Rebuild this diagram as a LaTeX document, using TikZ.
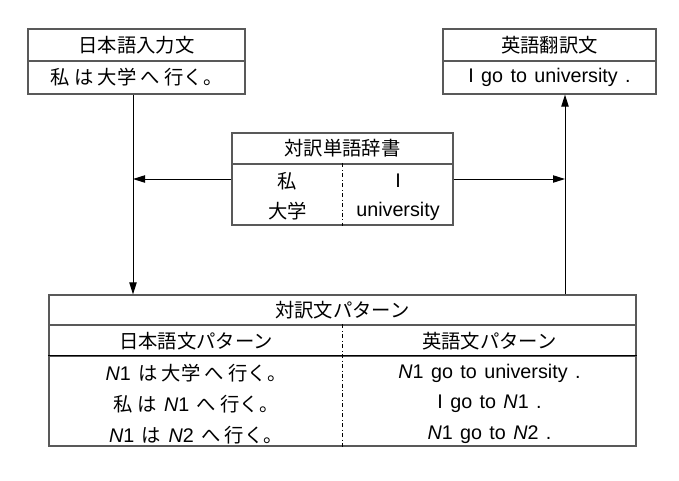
\documentclass[tikz,border=0pt]{standalone}
\usepackage{fontspec}
\setmainfont{Liberation Sans}[WordSpace=1.35]
\newfontfamily\jp{Noto Sans CJK JP}[Scale=0.98]
\newcommand\ja[1]{{\jp #1}}
\usetikzlibrary{arrows.meta}

\begin{document}
\begin{tikzpicture}[x=0.75pt,y=-0.75pt,
    every node/.style={font=\fontsize{14.8}{17}\selectfont,inner sep=0pt},
    cell/.style n args={2}{draw=black!65,line width=0.9pt,
                           minimum width=#1*0.75pt,minimum height=#2*0.75pt},
    arr/.style={-{Triangle[length=9pt,width=5.5pt]},line width=0.75pt}]
 \useasboundingbox (0,0) rectangle (679,480);
 % input and output
 \node[cell={217}{32}] (srchead) at (136.5,45)   {\ja{日本語入力文}};
 \node[cell={217}{33}] (srcsent) at (136.5,77.5) {\ja{私 は 大学 へ 行く。}};
 \node[cell={213}{32}] (tgthead) at (549.5,45)   {\ja{英語翻訳文}};
 \node[cell={213}{33}] (tgtsent) at (549.5,77.5) {I go to university .};
 % word dictionary
 \node[cell={221}{31}] (dicthead) at (342.5,148.5) {\ja{対訳単語辞書}};
 \node[cell={221}{61}] (dictbody) at (342.5,194.5) {};
 \draw[dashdotted,line width=0.75pt] (dictbody.north) -- (dictbody.south);
 \node (dja1) at (287.5,181) {\ja{私}};
 \node (den1) at (398,181)   {I};
 \node (dja2) at (287.5,211) {\ja{大学}};
 \node (den2) at (398,211)   {university};
 % sentence patterns
 \node[cell={587}{30}] (pattitle) at (342.5,310)   {\ja{対訳文パターン}};
 \node[cell={587}{31}] (pathead)  at (342.5,340.5) {};
 \node[cell={587}{90}] (patbody)  at (342.5,401)   {};
 \draw[line width=0.9pt] (patbody.north west) -- (patbody.north east);
 \draw[dashdotted,line width=0.75pt] (pathead.north) -- (patbody.south);
 \node (pjhead) at (196,341)   {\ja{日本語文パターン}};
 \node (pehead) at (489.5,341) {\ja{英語文パターン}};
 \node (pja1) at (196,373)   {\textit{N}1 \ja{は 大学 へ 行く。}};
 \node (pen1) at (489.5,373) {\textit{N}1 go to university .};
 \node (pja2) at (196,404)   {\ja{私 は} \textit{N}1 \ja{へ 行く。}};
 \node (pen2) at (489.5,404) {I go to \textit{N}1 .};
 \node (pja3) at (196,435)   {\textit{N}1 \ja{は} \textit{N}2 \ja{へ 行く。}};
 \node (pen3) at (489.5,435) {\textit{N}1 go to \textit{N}2 .};
 % connectors
 \coordinate (jcol) at (133,0);
 \coordinate (ecol) at (565,0);
 \coordinate (look) at (0,179);
 \draw[arr] (srcsent.south -| jcol) -- (pattitle.north -| jcol);
 \draw[arr] (pattitle.north -| ecol) -- (tgtsent.south -| ecol);
 \draw[arr] (dictbody.west |- look) -- (jcol |- look);
 \draw[arr] (dictbody.east |- look) -- (ecol |- look);
\end{tikzpicture}
\end{document}
